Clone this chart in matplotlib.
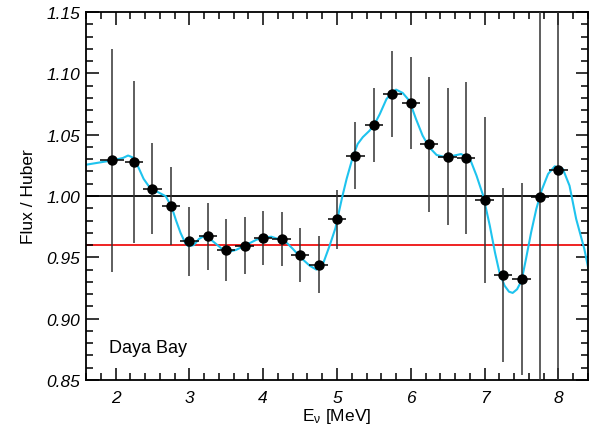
import matplotlib
matplotlib.use("Agg")
import matplotlib.pyplot as plt
from matplotlib.ticker import MultipleLocator, FormatStrFormatter

plt.rcParams['font.family'] = ['Liberation Sans', 'DejaVu Sans']
plt.rcParams['mathtext.fontset'] = 'custom'
plt.rcParams['mathtext.rm'] = 'Liberation Sans'
plt.rcParams['mathtext.it'] = 'Liberation Sans:italic'

# Daya Bay flux ratio points
energy = [1.955, 2.25, 2.5, 2.75, 3.0, 3.25, 3.5, 3.75, 4.0, 4.25, 4.5, 4.75,
          5.0, 5.25, 5.5, 5.75, 6.0, 6.25, 6.5, 6.75, 7.0, 7.25, 7.5, 7.75, 8.0]
energy_err = [0.165] + [0.125] * 24
ratio = [1.029, 1.028, 1.006, 0.992, 0.963, 0.967, 0.956, 0.9595, 0.966, 0.965,
         0.952, 0.944, 0.981, 1.033, 1.058, 1.083, 1.0756, 1.042, 1.032, 1.031,
         0.9967, 0.9356, 0.9323, 0.9989, 1.0212]
ratio_err = [0.091, 0.066, 0.037, 0.032, 0.028, 0.027, 0.025, 0.023, 0.022, 0.022,
             0.022, 0.023, 0.024, 0.027, 0.030, 0.035, 0.0375, 0.055, 0.056, 0.062,
             0.068, 0.071, 0.078, 0.5, 0.5]

# smooth fit curve
curve_e = [1.60, 1.955, 2.10, 2.17, 2.25, 2.32, 2.38, 2.47, 2.58, 2.68, 2.76, 2.82,
           2.88, 2.95, 2.99, 3.06, 3.13, 3.21, 3.30, 3.39, 3.50, 3.63, 3.75, 3.91,
           4.00, 4.11, 4.20, 4.29, 4.40, 4.52, 4.63, 4.72, 4.81, 4.90, 4.98, 5.01,
           5.07, 5.13, 5.22, 5.28, 5.35, 5.44, 5.51, 5.58, 5.67, 5.74, 5.80, 5.89,
           5.98, 6.07, 6.16, 6.25, 6.35, 6.48, 6.59, 6.68, 6.80, 6.89, 6.98, 7.07,
           7.14, 7.20, 7.27, 7.33, 7.38, 7.44, 7.50, 7.56, 7.63, 7.70, 7.77, 7.86,
           7.95, 8.06, 8.15, 8.24, 8.35, 8.42]
curve_r = [1.0255, 1.029, 1.031, 1.033, 1.031, 1.022, 1.014, 1.0063, 1.003, 0.9998,
           0.991, 0.980, 0.970, 0.961, 0.959, 0.960, 0.965, 0.9677, 0.964, 0.9595,
           0.954, 0.956, 0.9595, 0.9644, 0.966, 0.9668, 0.965, 0.9636, 0.957, 0.9492,
           0.9432, 0.940, 0.9446, 0.9595, 0.974, 0.9826, 0.999, 1.0139, 1.033, 1.0424,
           1.048, 1.0532, 1.0587, 1.0668, 1.079, 1.084, 1.0867, 1.084, 1.0777, 1.0628,
           1.0492, 1.0397, 1.0334, 1.0315, 1.033, 1.0342, 1.0305, 1.0166, 1.0003, 0.9758,
           0.954, 0.9378, 0.9269, 0.922, 0.921, 0.924, 0.931, 0.9486, 0.9704, 0.9894,
           1.0043, 1.018, 1.0242, 1.022, 1.0084, 0.9813, 0.957, 0.9364]

fig = plt.figure(figsize=(5.92, 4.27), dpi=100)
ax = fig.add_axes([0.1453, 0.1077, 0.8479, 0.8619])

ax.axhline(1.0, color='black', lw=1.3, zorder=1)
ax.axhline(0.96, color='#ee1111', lw=1.3, zorder=1)

ax.plot(curve_e, curve_r, color='#1ec3ee', lw=1.5, zorder=2)

ax.errorbar(energy, ratio, yerr=ratio_err, fmt='none', ecolor='0.2',
            elinewidth=1.1, capsize=0, zorder=3)
ax.errorbar(energy, ratio, xerr=energy_err, fmt='none', ecolor='black',
            elinewidth=1.1, capsize=0, zorder=3)
ax.plot(energy, ratio, 'o', color='black', ms=6.5, zorder=4)

ax.set_xlim(1.6, 8.4)
ax.set_ylim(0.85, 1.15)
ax.xaxis.set_major_locator(MultipleLocator(1))
ax.xaxis.set_minor_locator(MultipleLocator(0.2))
ax.yaxis.set_major_locator(MultipleLocator(0.05))
ax.yaxis.set_minor_locator(MultipleLocator(0.01))
ax.yaxis.set_major_formatter(FormatStrFormatter('%.2f'))

ax.tick_params(which='both', direction='in', top=True, right=True, width=1.1)
ax.tick_params(which='major', length=9, labelsize=12.5)
ax.tick_params(which='minor', length=5)
ax.tick_params(axis='x', pad=7)
ax.tick_params(axis='y', pad=4)
for sp in ax.spines.values():
    sp.set_linewidth(1.3)

ax.set_xlabel(r'E$_{\mathrm{\nu}}$ [MeV]', fontsize=12.5, labelpad=1)
ax.set_ylabel('Flux / Huber', fontsize=12.5, labelpad=8)
ax.text(1.91, 0.873, 'Daya Bay', fontsize=13)

# italic tick labels, once the ticks exist
fig.canvas.draw()
for lab in ax.get_xticklabels() + ax.get_yticklabels():
    lab.set_fontstyle('italic')

fig.savefig('out.png', dpi=100)
